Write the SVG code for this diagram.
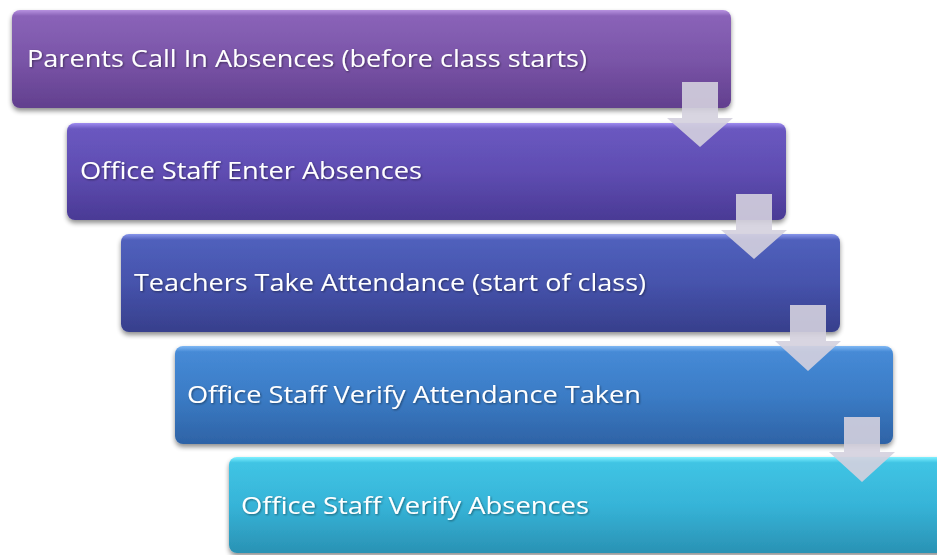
<svg xmlns="http://www.w3.org/2000/svg" width="937" height="555" viewBox="0 0 937 555">
  <defs>
    <linearGradient id="g1" x1="0" y1="0" x2="0" y2="1">
      <stop offset="0" stop-color="#b792e0"/>
      <stop offset="0.06" stop-color="#8a63b8"/>
      <stop offset="0.5" stop-color="#7a55a8"/>
      <stop offset="1" stop-color="#623f8e"/>
    </linearGradient>
    <linearGradient id="g2" x1="0" y1="0" x2="0" y2="1">
      <stop offset="0" stop-color="#9f8cf0"/>
      <stop offset="0.06" stop-color="#6a58c0"/>
      <stop offset="0.5" stop-color="#5f4db2"/>
      <stop offset="1" stop-color="#4a3a95"/>
    </linearGradient>
    <linearGradient id="g3" x1="0" y1="0" x2="0" y2="1">
      <stop offset="0" stop-color="#8795ea"/>
      <stop offset="0.06" stop-color="#5060bc"/>
      <stop offset="0.5" stop-color="#4653ac"/>
      <stop offset="1" stop-color="#373f8c"/>
    </linearGradient>
    <linearGradient id="g4" x1="0" y1="0" x2="0" y2="1">
      <stop offset="0" stop-color="#7fb8f4"/>
      <stop offset="0.06" stop-color="#468ad6"/>
      <stop offset="0.5" stop-color="#3b7cc6"/>
      <stop offset="1" stop-color="#2e63a6"/>
    </linearGradient>
    <linearGradient id="g5" x1="0" y1="0" x2="0" y2="1">
      <stop offset="0" stop-color="#7ff0ff"/>
      <stop offset="0.06" stop-color="#40c4e4"/>
      <stop offset="0.5" stop-color="#36b4d8"/>
      <stop offset="1" stop-color="#2a92b4"/>
    </linearGradient>
    <filter id="shadow" x="-5%" y="-10%" width="110%" height="130%">
      <feGaussianBlur in="SourceAlpha" stdDeviation="2.5"/>
      <feOffset dx="0" dy="3" result="b"/>
      <feComponentTransfer><feFuncA type="linear" slope="0.45"/></feComponentTransfer>
      <feMerge><feMergeNode/><feMergeNode in="SourceGraphic"/></feMerge>
    </filter>
    <filter id="tshadow" x="-5%" y="-20%" width="110%" height="140%">
      <feGaussianBlur in="SourceAlpha" stdDeviation="1"/>
      <feOffset dx="1" dy="1" result="b"/>
      <feComponentTransfer><feFuncA type="linear" slope="0.45"/></feComponentTransfer>
      <feMerge><feMergeNode/><feMergeNode in="SourceGraphic"/></feMerge>
    </filter>
  </defs>
  <style>
    .box { filter: url(#shadow); }
    .label { font-family: "Open Sans", "Liberation Sans", sans-serif; font-size: 23px; fill: #ffffff; filter: url(#tshadow); }
    .arrow { fill: #d4d0de; fill-opacity: 0.9; }
  </style>
  <rect width="937" height="555" fill="#ffffff"/>

  <g id="step1">
    <rect class="box" x="12" y="10" width="719" height="98" rx="8" fill="url(#g1)"/>
    <text class="label" x="27" y="67" textLength="560" lengthAdjust="spacingAndGlyphs">Parents Call In Absences (before class starts)</text>
  </g>
  <g id="step2">
    <rect class="box" x="67" y="123" width="719" height="97" rx="8" fill="url(#g2)"/>
    <text class="label" x="80" y="179" textLength="342" lengthAdjust="spacingAndGlyphs">Office Staff Enter Absences</text>
  </g>
  <g id="step3">
    <rect class="box" x="121" y="234" width="719" height="98" rx="8" fill="url(#g3)"/>
    <text class="label" x="134" y="291" textLength="512" lengthAdjust="spacingAndGlyphs">Teachers Take Attendance (start of class)</text>
  </g>
  <g id="step4">
    <rect class="box" x="175" y="346" width="718" height="98" rx="8" fill="url(#g4)"/>
    <text class="label" x="187" y="403" textLength="454" lengthAdjust="spacingAndGlyphs">Office Staff Verify Attendance Taken</text>
  </g>
  <g id="step5">
    <rect class="box" x="229" y="457" width="719" height="96" rx="8" fill="url(#g5)"/>
    <text class="label" x="241" y="514" textLength="348" lengthAdjust="spacingAndGlyphs">Office Staff Verify Absences</text>
  </g>

  <g id="connectors">
    <polygon class="arrow" points="682,82 718,82 718,118 733,118 700,147 667,118 682,118"/>
    <polygon class="arrow" points="736,194 772,194 772,230 787,230 754,259 721,230 736,230"/>
    <polygon class="arrow" points="790,305 826,305 826,341 841,341 808,371 775,341 790,341"/>
    <polygon class="arrow" points="844,417 880,417 880,452 895,452 862,482 829,452 844,452"/>
  </g>
</svg>
